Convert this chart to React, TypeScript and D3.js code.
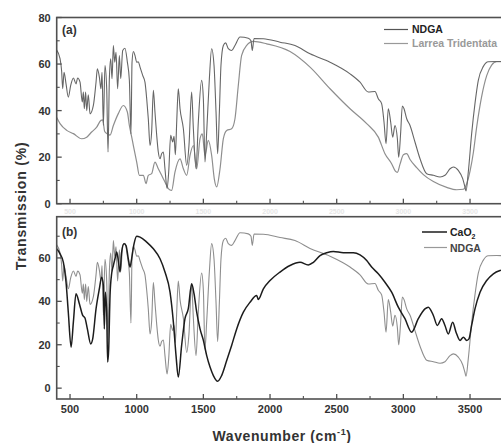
import React from "react";
import * as d3 from "d3";

// [wavenumber (cm-1), transmission (%)]
const ndga: [number, number][] = [
  [400, 66], [425, 62.3], [437, 57], [445, 49.4], [455, 56.5], [470, 51.5], [487, 45.8], [505, 50.8],
  [525, 54], [545, 51.5], [557, 54], [575, 52.2], [592, 43.7], [600, 48], [607, 40.8], [617, 48],
  [625, 40], [637, 46.8], [650, 38.6], [675, 42.2], [695, 52.2], [705, 58], [720, 54.4], [732, 49.4],
  [740, 56.5], [750, 33.6], [762, 59.4], [775, 49.4], [785, 22.2], [795, 53.7], [805, 62.3], [815, 53.7],
  [825, 68], [835, 60.8], [845, 65.1], [857, 49.4], [870, 63.7], [880, 53.7], [895, 65.8], [912, 66.8],
  [930, 60.8], [945, 53], [957, 30], [965, 60.8], [975, 65.4], [987, 63.7], [1000, 60.8], [1012, 61],
  [1025, 58.7], [1045, 55.1], [1062, 52.2], [1075, 45.1], [1087, 36.5], [1100, 25], [1112, 30.8],
  [1125, 48.7], [1137, 39.4], [1150, 29.4], [1162, 22.2], [1175, 19.3], [1187, 21.5], [1200, 22.2],
  [1212, 15], [1228, 6.5], [1240, 13.6], [1255, 29.4], [1270, 26.5], [1280, 29], [1290, 21], [1300, 35],
  [1312, 49.4], [1325, 40.8], [1350, 32.2], [1375, 16.5], [1392, 25], [1412, 48], [1425, 32.2],
  [1445, 15], [1462, 35], [1487, 53], [1500, 45], [1512, 17.9], [1525, 30.8], [1545, 53.7], [1562, 66.6],
  [1580, 59.4], [1595, 39.4], [1607, 21.5], [1620, 39.4], [1632, 59.4], [1650, 68], [1667, 69.1],
  [1687, 66.6], [1712, 65.8], [1737, 68], [1775, 71.6], [1837, 71.1], [1857, 70], [1867, 65.8],
  [1880, 71], [1950, 70.9], [2075, 69.4], [2187, 68], [2300, 64.4], [2450, 60.8], [2600, 55.8],
  [2675, 52.2], [2737, 48], [2787, 48.2], [2812, 45.1], [2837, 43], [2855, 35], [2870, 25.8],
  [2887, 40.8], [2905, 35], [2920, 28.6], [2937, 33.6], [2955, 27.9], [2965, 20], [2980, 30.8],
  [2992, 42], [3005, 40.8], [3025, 36.5], [3050, 33.6], [3087, 26.5], [3125, 19.3], [3175, 12.9],
  [3225, 12.2], [3275, 11.5], [3312, 12.2], [3350, 15], [3375, 15.8], [3412, 14.3], [3445, 10.8],
  [3462, 7.2], [3470, 5.5], [3487, 13.6], [3512, 30], [3537, 43], [3562, 53], [3600, 59], [3637, 61],
  [3700, 61.1], [3800, 61], [4000, 61],
];

const larrea: [number, number][] = [
  [400, 37], [425, 34.4], [475, 31.5], [525, 30.1], [587, 27.9], [625, 28.6], [662, 30.8], [700, 32.9],
  [732, 35.8], [745, 36], [760, 31], [780, 30], [800, 29.5], [825, 33.6], [862, 38.7], [900, 42.2],
  [930, 39.4], [945, 33.6], [960, 29.4], [975, 25], [1000, 17.9], [1020, 12.2], [1050, 12.2],
  [1070, 8.6], [1087, 12.2], [1112, 12.9], [1137, 17.9], [1162, 15], [1187, 12.2], [1212, 9.3],
  [1237, 6.5], [1262, 5.7], [1287, 13.6], [1325, 19.3], [1350, 15], [1375, 12.2], [1400, 20.8],
  [1425, 25], [1450, 15], [1475, 28], [1492, 30], [1512, 20.8], [1537, 27.2], [1562, 20.8], [1582, 10.7],
  [1600, 7.2], [1625, 15], [1650, 28], [1675, 31.5], [1712, 32.2], [1737, 36.5], [1762, 50.8],
  [1787, 63.7], [1825, 68], [1875, 69.7], [1975, 68.7], [2150, 65.4], [2300, 58.7], [2450, 49.4],
  [2600, 40.8], [2725, 34.4], [2812, 28.6], [2862, 21.5], [2912, 17.2], [2940, 14], [2955, 13.5],
  [2975, 17], [3000, 21], [3025, 21.5], [3050, 19], [3100, 15.5], [3150, 12.5], [3225, 9.5], [3325, 7],
  [3400, 6], [3450, 6.2], [3475, 8.6], [3500, 14], [3525, 22], [3550, 33], [3587, 46], [3625, 55],
  [3662, 59.5], [3700, 61], [3800, 61], [4000, 61],
];

const cao2: [number, number][] = [
  [400, 64.2], [425, 61.9], [450, 58], [470, 48.8], [487, 35], [508, 18.9], [525, 30.4], [545, 43.5],
  [570, 38.9], [595, 33.5], [612, 32.3], [630, 27.3], [655, 20.4], [670, 22.7], [695, 36.5], [720, 45.8],
  [737, 51.1], [750, 47.3], [757, 27.3], [765, 44.2], [775, 35], [782, 12], [790, 18.1], [800, 42.7],
  [812, 52.7], [825, 56.5], [837, 59.6], [850, 62.7], [862, 58.8], [875, 53.5], [887, 62.7], [905, 66.5],
  [920, 65.7], [937, 59.6], [950, 55.8], [962, 59.6], [980, 66.5], [1000, 70], [1025, 69.6], [1075, 67.3],
  [1125, 64.2], [1175, 59.6], [1212, 53.5], [1250, 44.2], [1275, 30.4], [1295, 15], [1312, 5.1],
  [1337, 19.7], [1362, 32], [1387, 36.6], [1412, 48.1], [1430, 43.5], [1450, 35], [1475, 27.3],
  [1500, 22], [1525, 15], [1550, 9.7], [1575, 5.8], [1607, 3.2], [1637, 5.8], [1675, 12.7], [1712, 19.7],
  [1750, 27.3], [1800, 35], [1850, 39.6], [1900, 42.7], [1912, 40.9], [1950, 45.8], [2000, 49.6],
  [2075, 53.5], [2150, 56.5], [2225, 58], [2287, 56.8], [2325, 58], [2375, 61.1], [2425, 62.4],
  [2475, 63], [2550, 62.4], [2625, 62.4], [2675, 61.4], [2725, 58.8], [2762, 55.8], [2812, 52.7],
  [2862, 48.8], [2912, 44.2], [2962, 37.3], [3012, 32], [3062, 25.8], [3112, 32], [3162, 36.5],
  [3187, 37.3], [3225, 33.5], [3255, 28.9], [3287, 32], [3312, 28.9], [3337, 25], [3370, 30.4],
  [3395, 25.8], [3425, 22], [3450, 23.5], [3475, 22], [3492, 22.7], [3512, 28.9], [3537, 36.5],
  [3575, 44.2], [3625, 49.6], [3675, 52.7], [3725, 54.2], [3800, 55], [4000, 56],
];

const xMajorTicks = [500, 1000, 1500, 2000, 2500, 3000, 3500];
const xMinorTicks = [750, 1250, 1750, 2250, 2750, 3250, 3750];
const yTopMajor = [0, 20, 40, 60, 80];
const yBotMajor = [0, 20, 40, 60];
const yMinor = [10, 30, 50, 70];

const W = 501;
const H = 443;
const FONT = "'Liberation Sans', Arial, Helvetica, sans-serif";

export default function App() {
  const x = d3.scaleLinear().domain([400, 4000]).range([56.7, 536.7]);
  const yTop = d3.scaleLinear().domain([0, 80]).range([203.7, 17.5]);
  const yBot = d3.scaleLinear().domain([-5, 79]).range([399, 216.7]);

  const lineTop = d3.line<[number, number]>().x((d) => x(d[0])).y((d) => yTop(d[1])).curve(d3.curveMonotoneX);
  const lineBot = d3.line<[number, number]>().x((d) => x(d[0])).y((d) => yBot(d[1])).curve(d3.curveMonotoneX);

  const left = x(400);
  const right = x(4000);
  const frame = "#505050";

  const xTicks = (yBase: number, showLabels: boolean, faint: boolean) => (
    <g>
      {xMajorTicks.map((t) => (
        <g key={"M" + t}>
          <line x1={x(t)} x2={x(t)} y1={yBase} y2={yBase - 5} stroke={frame} strokeWidth={1.3} />
          {showLabels && (
            <text
              x={x(t)}
              y={faint ? yBase + 10 : yBase + 14}
              textAnchor="middle"
              fontFamily={FONT}
              fontWeight="bold"
              fontSize={faint ? 7 : 11}
              fill={faint ? "#e6e6e6" : "#333"}
            >
              {t}
            </text>
          )}
        </g>
      ))}
      {xMinorTicks.map((t) => (
        <line key={"m" + t} x1={x(t)} x2={x(t)} y1={yBase} y2={yBase - 3} stroke={frame} strokeWidth={1.1} />
      ))}
    </g>
  );

  const yTicks = (scale: d3.ScaleLinear<number, number>, majors: number[]) => (
    <g>
      {majors.map((t) => (
        <g key={"M" + t}>
          <line x1={left} x2={left + 5} y1={scale(t)} y2={scale(t)} stroke={frame} strokeWidth={1.3} />
          <text
            x={left - 6}
            y={scale(t) + 4}
            textAnchor="end"
            fontFamily={FONT}
            fontWeight="bold"
            fontSize={11}
            fill="#333"
          >
            {t}
          </text>
        </g>
      ))}
      {yMinor.map((t) => (
        <line key={"m" + t} x1={left} x2={left + 3} y1={scale(t)} y2={scale(t)} stroke={frame} strokeWidth={1.1} />
      ))}
    </g>
  );

  return (
    <svg
      width={W}
      height={H}
      viewBox={`0 0 ${W} ${H}`}
      style={{ position: "absolute", left: 0, top: 0, background: "#fff" }}
    >
      <defs>
        <clipPath id="clipTop">
          <rect x={left} y={yTop(80)} width={right - left} height={yTop(0) - yTop(80)} />
        </clipPath>
        <clipPath id="clipBot">
          <rect x={left} y={yBot(79)} width={right - left} height={yBot(-5) - yBot(79)} />
        </clipPath>
      </defs>
      <rect x={0} y={0} width={W} height={H} fill="#fff" />

      {/* Top panel (a) */}
      <g clipPath="url(#clipTop)">
        <path d={lineTop(larrea) || ""} fill="none" stroke="#8e8e8e" strokeWidth={1.2} />
        <path d={lineTop(ndga) || ""} fill="none" stroke="#666" strokeWidth={1.1} />
      </g>
      <rect
        x={left}
        y={yTop(80)}
        width={right - left}
        height={yTop(0) - yTop(80)}
        fill="none"
        stroke={frame}
        strokeWidth={1.6}
      />
      {xTicks(yTop(0), true, true)}
      {yTicks(yTop, yTopMajor)}
      <text x={62} y={34} fontFamily={FONT} fontWeight="bold" fontSize={12} fill="#333">(a)</text>
      <line x1={384} x2={408} y1={29.5} y2={29.5} stroke="#555" strokeWidth={1.2} />
      <text x={412} y={33} fontFamily={FONT} fontWeight="bold" fontSize={10.5} fill="#222">NDGA</text>
      <line x1={384} x2={408} y1={43.5} y2={43.5} stroke="#999" strokeWidth={1.2} />
      <text x={412} y={47} fontFamily={FONT} fontWeight="bold" fontSize={10.5} fill="#999">Larrea Tridentata</text>

      {/* Bottom panel (b) */}
      <g clipPath="url(#clipBot)">
        <path d={lineBot(ndga) || ""} fill="none" stroke="#8e8e8e" strokeWidth={1.1} />
        <path d={lineBot(cao2) || ""} fill="none" stroke="#1c1c1c" strokeWidth={1.5} />
      </g>
      <rect
        x={left}
        y={yBot(79)}
        width={right - left}
        height={yBot(-5) - yBot(79)}
        fill="none"
        stroke={frame}
        strokeWidth={1.6}
      />
      {xTicks(yBot(-5), true, false)}
      {yTicks(yBot, yBotMajor)}
      <text x={62} y={236} fontFamily={FONT} fontWeight="bold" fontSize={12} fill="#333">(b)</text>
      <line x1={422} x2={447} y1={232} y2={232} stroke="#1c1c1c" strokeWidth={1.5} />
      <text x={450} y={236} fontFamily={FONT} fontWeight="bold" fontSize={10.5} fill="#222">
        CaO<tspan fontSize={7} dy={3}>2</tspan>
      </text>
      <line x1={424} x2={447} y1={247.5} y2={247.5} stroke="#999" strokeWidth={1.2} />
      <text x={450} y={251.5} fontFamily={FONT} fontWeight="bold" fontSize={10.5} fill="#444">NDGA</text>

      {/* Axis titles */}
      <text
        transform={`translate(26, 206) rotate(-90)`}
        textAnchor="middle"
        fontFamily={FONT}
        fontWeight="bold"
        fontSize={14}
        letterSpacing={0.8}
        fill="#333"
      >
        Transmission (%)
      </text>
      <text
        x={282}
        y={441}
        textAnchor="middle"
        fontFamily={FONT}
        fontWeight="bold"
        fontSize={14}
        letterSpacing={0.6}
        fill="#333"
      >
        Wavenumber (cm<tspan fontSize={9} dy={-6}>-1</tspan>
        <tspan dy={6}>)</tspan>
      </text>
    </svg>
  );
}
